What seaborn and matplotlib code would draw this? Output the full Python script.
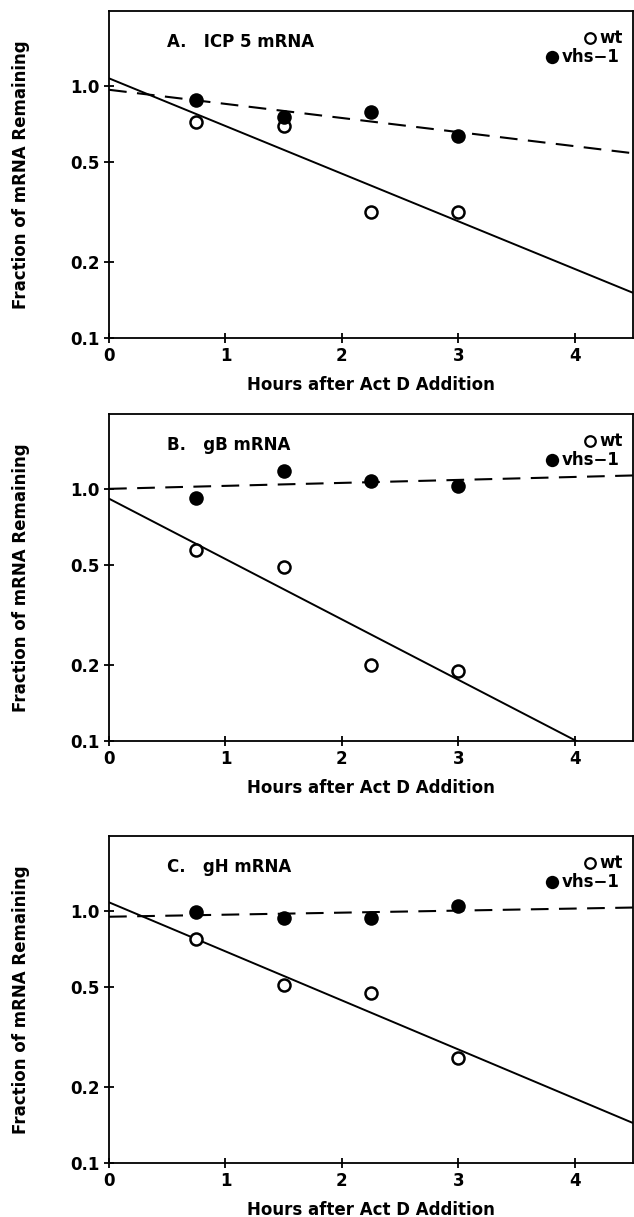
import numpy as np
import pandas as pd
import matplotlib
matplotlib.use("Agg")
import matplotlib.pyplot as plt
import seaborn as sns

# ---data---
hours = [0.75, 1.5, 2.25, 3.0]

panel_titles = ["A.   ICP 5 mRNA", "B.   gB mRNA", "C.   gH mRNA"]

# fraction of mRNA remaining, per panel
wt_values = [
    [0.72, 0.69, 0.315, 0.315],
    [0.57, 0.49, 0.20, 0.19],
    [0.77, 0.51, 0.47, 0.26],
]
vhs_values = [
    [0.88, 0.75, 0.79, 0.63],
    [0.92, 1.18, 1.07, 1.03],
    [0.99, 0.935, 0.94, 1.04],
]

# fitted decay lines, value at start and end of x range
fit_hours = [0.0, 4.5]
wt_fit = [
    [1.07, 0.151],
    [0.914, 0.0765],
    [1.08, 0.144],
]
vhs_fit = [
    [0.964, 0.54],
    [1.0, 1.13],
    [0.947, 1.03],
]

ytick_vals = [0.1, 0.2, 0.5, 1.0]
ytick_labels = ["0.1", "0.2", "0.5", "1.0"]
xtick_vals = [0, 1, 2, 3, 4]

# ---styling---
sns.set_style("ticks")
plt.rcParams['font.family'] = ['DejaVu Sans']
plt.rcParams['font.weight'] = 'bold'
plt.rcParams['axes.labelweight'] = 'bold'
plt.rcParams['axes.linewidth'] = 1.3
for k in ['text.color', 'axes.labelcolor', 'xtick.color', 'ytick.color', 'axes.edgecolor']:
    plt.rcParams[k] = 'black'

fs = 12

fig = plt.figure(figsize=(6.34, 12.17), dpi=100)
bottoms = [0.7223, 0.3911, 0.0444]

for i in range(3):
    ax = fig.add_axes([0.172, bottoms[i], 0.8265, 0.2687])

    pts = pd.DataFrame({
        'hours': hours * 2,
        'frac': wt_values[i] + vhs_values[i],
        'strain': ['wt'] * 4 + ['vhs-1'] * 4,
    })
    fits = pd.DataFrame({'hours': fit_hours, 'wt': wt_fit[i], 'vhs': vhs_fit[i]})

    sns.lineplot(data=fits, x='hours', y='wt', color='black', lw=1.4, ax=ax)
    sns.lineplot(data=fits, x='hours', y='vhs', color='black', lw=1.5, ax=ax)
    ax.lines[-1].set_dashes((8.5, 5))

    sns.scatterplot(data=pts[pts.strain == 'wt'], x='hours', y='frac', marker='o',
                    s=75, facecolor='white', edgecolor='black', linewidth=1.8,
                    ax=ax, zorder=3, legend=False)
    sns.scatterplot(data=pts[pts.strain == 'vhs-1'], x='hours', y='frac', marker='o',
                    s=110, color='black', linewidth=0,
                    ax=ax, zorder=3, legend=False)

    ax.set_yscale('log')
    ax.set_ylim(0.1, 1.98)
    ax.set_xlim(0, 4.5)
    ax.set_yticks(ytick_vals)
    ax.set_yticklabels(ytick_labels)
    ax.yaxis.set_minor_locator(matplotlib.ticker.NullLocator())
    ax.set_xticks(xtick_vals)
    ax.set_xticklabels([str(v) for v in xtick_vals])
    ax.tick_params(direction='inout', length=7, width=1.3, labelsize=fs, pad=3)

    ax.set_xlabel("Hours after Act D Addition", fontsize=fs)
    ax.set_ylabel("Fraction of mRNA Remaining", fontsize=fs)
    ax.xaxis.set_label_coords(0.5, -0.115)
    ax.yaxis.set_label_coords(-0.15, 0.5)

    # panel title
    ax.text(0.11, 0.905, panel_titles[i], transform=ax.transAxes,
            fontsize=fs, va='center', ha='left')

    # legend drawn by hand so rows are right-aligned like the original
    ax.plot([0.917], [0.918], transform=ax.transAxes, marker='o', ms=7.6,
            mfc='white', mec='black', mew=1.6, clip_on=False)
    ax.text(0.936, 0.918, "wt", transform=ax.transAxes, fontsize=fs,
            va='center', ha='left')
    ax.plot([0.845], [0.858], transform=ax.transAxes, marker='o', ms=9.6,
            mfc='black', mec='black', mew=0, clip_on=False)
    ax.text(0.864, 0.858, "vhs\u22121", transform=ax.transAxes, fontsize=fs,
            va='center', ha='left')

    for sp in ax.spines.values():
        sp.set_visible(True)

fig.savefig("out.png", dpi=100)
